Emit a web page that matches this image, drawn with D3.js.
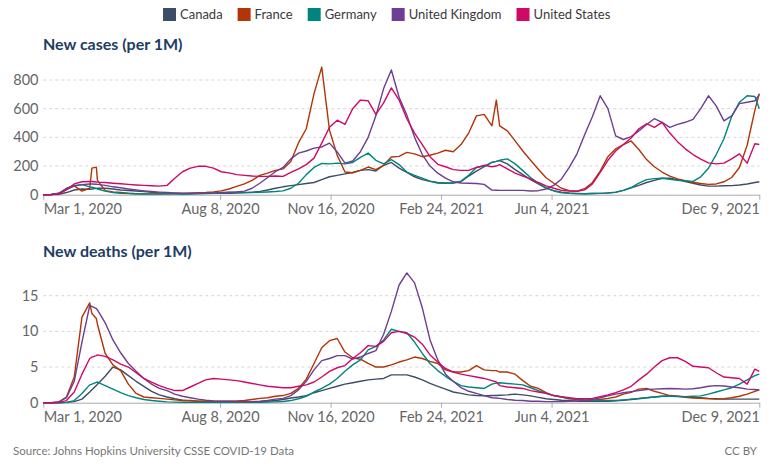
<!DOCTYPE html>
<html><head><meta charset="utf-8">
<script src="https://cdn.jsdelivr.net/npm/d3@7"></script>
<style>
body{margin:0;background:#fff;}
svg{display:block;font-family:Lato,"Noto Sans",sans-serif;}
</style></head><body>
<svg id="chart" width="771" height="471"></svg>
<script>
// ---------- DATA ----------
const dates = ["2020-03-01","2020-03-08","2020-03-15","2020-03-22","2020-03-29","2020-04-05","2020-04-12","2020-04-14","2020-04-18","2020-04-19",
"2020-04-26","2020-05-03","2020-05-10","2020-05-17","2020-05-24","2020-05-31","2020-06-07","2020-06-14","2020-06-21","2020-06-28",
"2020-07-05","2020-07-12","2020-07-19","2020-07-26","2020-08-02","2020-08-09","2020-08-16","2020-08-23","2020-08-30","2020-09-06",
"2020-09-13","2020-09-20","2020-09-27","2020-10-04","2020-10-11","2020-10-18","2020-10-25","2020-11-01","2020-11-08","2020-11-15",
"2020-11-22","2020-11-29","2020-12-06","2020-12-13","2020-12-20","2020-12-27","2021-01-03","2021-01-10","2021-01-17","2021-01-24",
"2021-01-31","2021-02-07","2021-02-14","2021-02-21","2021-02-28","2021-03-07","2021-03-14","2021-03-21","2021-03-28","2021-04-04",
"2021-04-11","2021-04-15","2021-04-18","2021-04-25","2021-05-02","2021-05-09","2021-05-16","2021-05-23","2021-05-30","2021-06-06",
"2021-06-13","2021-06-20","2021-06-27","2021-07-04","2021-07-11","2021-07-18","2021-07-25","2021-08-01","2021-08-08","2021-08-15",
"2021-08-22","2021-08-29","2021-09-05","2021-09-12","2021-09-19","2021-09-26","2021-10-03","2021-10-10","2021-10-17","2021-10-24",
"2021-10-31","2021-11-07","2021-11-14","2021-11-21","2021-11-28","2021-12-05","2021-12-09"];

const countries = ["Canada","France","Germany","United Kingdom","United States"];
const colors = ["#3C4E66","#B13507","#00847E","#6D3E91","#CF0A66"];

// New cases per million
const casesCanada = [0,0.5,3,15,33,40,38,40,44,45,
45,40,33,29,26,22,17,12,9,8,
7,8,11,12,10,10,10,11,13,17,
23,33,45,55,63,70,78,85,105,125,
135,145,155,170,175,165,205,225,185,155,
125,105,93,82,80,82,90,130,165,195,
225,232,238,215,175,140,105,75,45,28,
18,12,9,7,8,9,13,18,30,48,
65,85,100,115,115,105,92,80,68,60,
60,62,63,68,75,85,90];
const casesFrance = [0,1,8,35,62,25,45,185,192,100,
28,20,15,10,7,6,6,6,7,8,
9,10,12,15,20,27,40,58,75,100,
135,150,170,180,232,363,460,705,890,450,
274,158,153,170,193,175,205,263,267,295,
285,265,275,290,310,300,350,430,550,560,
480,660,480,445,375,305,240,178,118,80,
45,28,24,42,85,165,265,320,350,375,
315,245,195,158,130,110,98,87,78,72,
75,90,120,190,345,590,705];
const casesGermany = [0,1,10,45,65,70,55,52,43,40,
25,15,10,8,7,5,4,5,8,6,
5,5,6,8,9,12,15,17,16,15,
17,19,22,27,45,80,140,190,218,215,
220,215,225,260,290,240,215,245,210,158,
135,115,95,85,82,82,95,135,190,200,
225,232,240,250,215,168,120,80,48,26,
14,9,7,7,8,9,11,16,30,50,
80,105,112,115,108,100,96,93,125,185,
280,390,545,645,690,685,600];
const casesUK = [0,1,8,40,60,70,75,75,73,72,
65,55,48,40,33,27,22,18,15,13,
11,10,10,11,13,15,17,20,25,45,
80,120,160,190,250,290,305,325,333,360,
298,220,235,300,400,550,740,870,680,555,
400,280,200,150,115,90,82,80,78,72,
32,31,30,30,30,30,26,28,40,65,
110,190,285,420,545,690,600,410,385,405,
445,490,530,505,470,490,505,525,600,690,
620,515,550,635,645,655,700];
const casesUS = [0,0.5,5,35,75,90,92,92,89,88,
85,80,76,72,68,65,62,60,65,115,
160,185,198,198,185,160,152,140,135,130,
128,128,130,128,155,180,210,255,360,470,
520,490,600,660,655,560,640,745,660,530,
430,350,265,212,195,175,170,170,190,205,
195,200,210,180,150,130,110,85,62,45,
30,26,24,34,75,155,240,305,350,395,
460,495,470,505,430,370,320,280,248,222,
215,220,250,285,220,355,350];

// New deaths per million
const deathsCanada = [0,0,0,0.05,0.15,0.5,1.5,1.8,2.4,2.6,
3.7,5.0,4.6,3.8,3.0,2.3,1.6,1.1,0.8,0.55,
0.35,0.25,0.2,0.15,0.15,0.15,0.15,0.12,0.12,0.12,
0.15,0.2,0.3,0.45,0.65,0.8,1.0,1.4,1.7,2.0,
2.3,2.6,2.8,3.0,3.2,3.3,3.4,3.9,3.9,3.9,
3.6,3.2,2.7,2.3,1.9,1.5,1.3,1.1,1.0,0.95,
1.0,1.0,1.05,1.1,1.2,1.1,0.95,0.75,0.55,0.45,
0.35,0.3,0.2,0.18,0.18,0.18,0.2,0.25,0.35,0.45,
0.55,0.7,0.8,0.9,0.95,0.9,0.85,0.75,0.7,0.6,
0.55,0.5,0.5,0.5,0.5,0.5,0.5];
const deathsFrance = [0,0,0.1,0.8,3.6,12.0,14.0,12.5,11.8,11.0,
6.9,5.3,4.5,2.6,1.3,0.8,0.7,0.6,0.5,0.4,
0.3,0.3,0.2,0.2,0.2,0.2,0.2,0.25,0.3,0.45,
0.6,0.7,0.9,1.0,1.3,2.0,3.3,5.5,7.7,8.7,
9.0,7.1,6.3,6.1,5.5,5.0,5.0,5.3,5.7,6.0,
6.4,6.2,5.8,5.5,4.6,4.3,4.3,4.5,5.2,4.6,
4.5,4.5,4.3,4.3,4.0,3.1,2.3,2.0,1.4,1.0,
0.8,0.55,0.45,0.35,0.35,0.45,0.6,0.8,1.2,1.45,
1.9,2.0,1.6,1.3,1.0,0.9,0.75,0.65,0.6,0.55,
0.5,0.55,0.7,0.9,1.2,1.6,1.8];
const deathsGermany = [0,0,0,0.05,0.3,1.3,2.5,2.6,2.85,2.9,
2.4,1.9,1.4,1.0,0.7,0.45,0.3,0.2,0.12,0.08,
0.07,0.05,0.05,0.05,0.05,0.05,0.06,0.07,0.07,0.06,
0.07,0.1,0.12,0.16,0.3,0.55,0.9,1.5,2.0,2.6,
3.4,4.4,5.3,6.0,7.4,7.9,8.8,10.3,10.0,9.8,
8.5,6.9,5.5,4.5,3.7,3.0,2.4,2.2,2.1,2.0,
2.6,2.75,2.8,2.7,2.6,2.5,2.1,1.7,1.3,1.0,
0.8,0.6,0.5,0.4,0.35,0.3,0.3,0.3,0.4,0.5,
0.6,0.7,0.8,0.9,0.9,0.85,0.85,0.9,0.95,1.2,
1.5,1.8,2.1,2.6,3.2,3.8,4.0];
const deathsUK = [0,0,0.1,0.7,3.0,8.5,13.6,13.5,13.2,13.0,
11.2,8.8,7.0,5.5,4.4,3.4,2.6,2.0,1.7,1.2,
0.9,0.7,0.5,0.35,0.25,0.2,0.2,0.15,0.15,0.15,
0.2,0.3,0.5,0.6,1.0,1.8,3.0,4.6,5.9,6.2,
6.6,6.6,6.1,6.4,6.9,7.3,9.6,12.8,16.5,18.2,
16.8,13.3,8.8,6.0,4.0,3.0,2.1,1.6,1.3,1.0,
0.7,0.65,0.6,0.45,0.35,0.3,0.2,0.2,0.15,0.15,
0.15,0.2,0.25,0.3,0.45,0.7,0.95,1.2,1.4,1.55,
1.7,1.85,1.9,1.95,2.0,1.95,1.9,1.95,2.1,2.3,
2.4,2.35,2.2,2.1,1.9,1.85,1.8];
const deathsUS = [0,0,0.05,0.3,1.5,4.0,6.2,6.4,6.6,6.7,
6.5,6.0,5.4,5.0,4.2,3.4,2.9,2.4,2.0,1.7,
1.7,2.2,2.7,3.2,3.4,3.3,3.2,3.1,2.9,2.7,
2.5,2.3,2.2,2.1,2.1,2.3,2.5,2.9,3.6,4.4,
4.9,5.2,6.2,7.0,8.0,7.9,8.6,9.8,10.0,9.7,
9.2,8.2,6.7,5.7,4.8,4.3,4.0,3.8,3.6,3.4,
3.1,2.9,2.4,2.2,2.1,2.0,1.7,1.5,1.3,1.0,
0.85,0.7,0.55,0.55,0.6,0.85,1.1,1.4,1.8,2.3,
3.2,4.0,5.0,5.9,6.3,6.3,5.8,5.1,5.0,4.9,
4.2,3.6,3.5,3.4,2.6,4.7,4.4];

const xTickDates = ["2020-03-01","2020-08-08","2020-11-16","2021-02-24","2021-06-04","2021-12-09"];
const xTickLabels = ["Mar 1, 2020","Aug 8, 2020","Nov 16, 2020","Feb 24, 2021","Jun 4, 2021","Dec 9, 2021"];
const casesTicks = [0,200,400,600,800];
const deathsTicks = [0,5,10,15];

// ---------- DRAW ----------
const svg = d3.select("#chart");
const parse = d3.utcParse("%Y-%m-%d");
const dateObjs = dates.map(parse);
const x = d3.scaleUtc().domain([parse(xTickDates[0]), parse(xTickDates[xTickDates.length-1])]).range([43.3, 759.3]);

// legend
const legend = svg.append("g");
let lx = 163;
countries.forEach((c, i) => {
  legend.append("rect").attr("x", lx).attr("y", 8).attr("width", 13).attr("height", 13).attr("fill", colors[i]);
  const t = legend.append("text").attr("x", lx + 17).attr("y", 19.3).attr("font-size", 13).attr("fill", "#3a3a3a").text(c);
  lx += 17 + t.node().getComputedTextLength() + 15;
});

function panel(cfg) {
  const g = svg.append("g");
  const y = d3.scaleLinear().domain([0, cfg.ticks[cfg.ticks.length-1]]).range(cfg.range);
  g.append("text").attr("x", 43).attr("y", cfg.titleY).attr("font-size", 16).attr("font-weight", 700)
    .attr("fill", "#1d3d63").text(cfg.title);
  g.selectAll("line.grid").data(cfg.ticks.filter(d => d > 0)).join("line").attr("class", "grid")
    .attr("x1", x.range()[0]).attr("x2", x.range()[1]).attr("y1", d => y(d)).attr("y2", d => y(d))
    .attr("stroke", "#d6d6d6").attr("stroke-dasharray", "3,3").attr("stroke-width", 1);
  g.selectAll("text.ylab").data(cfg.ticks).join("text").attr("class", "ylab")
    .attr("x", 38.5).attr("y", d => y(d) + 5).attr("text-anchor", "end").attr("font-size", 14.5)
    .attr("fill", "#666").text(d => d);
  const axis = d3.axisBottom(x).tickValues(xTickDates.map(parse))
    .tickFormat((d, i) => xTickLabels[i]).tickSize(5).tickSizeOuter(0).tickPadding(4.5);
  const ax = g.append("g").attr("transform", `translate(0,${y(0)})`).call(axis);
  ax.select(".domain").attr("stroke", "#aaa");
  ax.selectAll(".tick line").attr("stroke", "#aaa");
  ax.selectAll(".tick text").attr("font-size", 14.5).attr("fill", "#666").attr("font-family", "Lato")
    .attr("text-anchor", (d, i) => i === 0 ? "start" : (i === xTickDates.length - 1 ? "end" : "middle"));
  const line = d3.line().x((d, i) => x(dateObjs[i])).y(d => y(d));
  cfg.series.forEach((s, i) => {
    g.append("path").datum(s).attr("d", line).attr("fill", "none").attr("stroke", colors[i])
      .attr("stroke-width", 1.4).attr("stroke-linejoin", "round");
  });
}

panel({title: "New cases (per 1M)", titleY: 49.5, ticks: casesTicks, range: [194.7, 80],
  series: [casesCanada, casesFrance, casesGermany, casesUK, casesUS]});
panel({title: "New deaths (per 1M)", titleY: 257.3, ticks: deathsTicks, range: [402.7, 295.7],
  series: [deathsCanada, deathsFrance, deathsGermany, deathsUK, deathsUS]});

svg.append("text").attr("x", 13).attr("y", 455).attr("font-size", 11.5).attr("fill", "#777")
  .text("Source: Johns Hopkins University CSSE COVID-19 Data");
svg.append("text").attr("x", 757).attr("y", 455).attr("text-anchor", "end").attr("font-size", 11.5).attr("fill", "#777")
  .text("CC BY");
</script>
</body></html>
